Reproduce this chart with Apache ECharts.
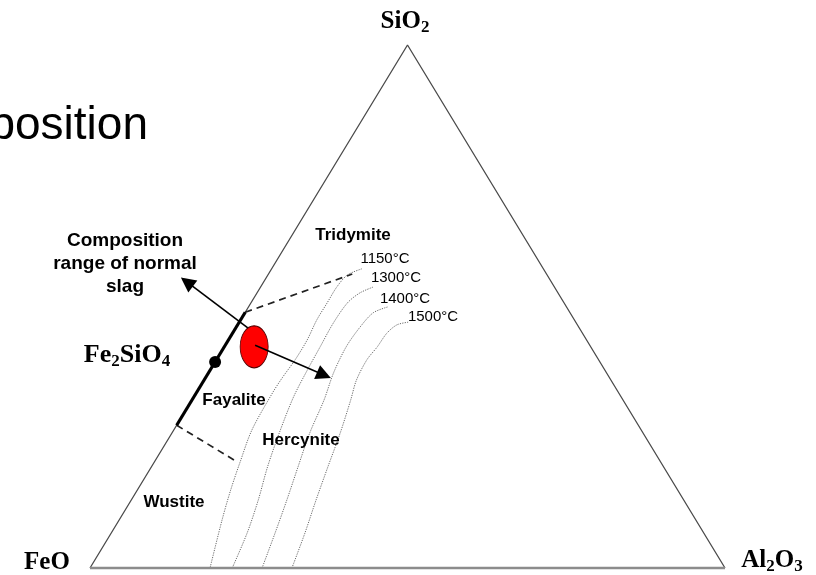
<!DOCTYPE html>
<html><head><meta charset="utf-8">
<script src="https://cdn.jsdelivr.net/npm/echarts@6/dist/echarts.min.js"></script>
<style>html,body{margin:0;padding:0;background:#fff}#c{width:816px;height:575px}</style>
</head><body><div id="c"></div>
<script>
// Ternary compositions, wt%: SiO2 and Al2O3 given, FeO = 100 - SiO2 - Al2O3
const vertexNames = ['FeO', 'SiO2', 'Al2O3'];
const vertex_SiO2 = [0, 100, 0];
const vertex_Al2O3 = [0, 0, 100];

const iso1150_SiO2  = [57.2, 56.0, 53.7, 50.7, 47.4, 43.6, 39.8, 36.5, 33.5, 26.4, 20.3, 14.9, 9.2, 0];
const iso1150_Al2O3 = [14.2, 12.5, 12.0, 12.0, 12.0, 12.4, 12.4, 12.1, 12.0, 12.3, 13.5, 14.7, 16.2, 18.9];
const iso1300_SiO2  = [53.7, 52.6, 50.7, 46.8, 42.3, 37.9, 32.7, 25.8, 19.3, 13.0, 6.7, 0];
const iso1300_Al2O3 = [17.7, 16.2, 15.2, 14.9, 15.1, 15.3, 15.7, 16.9, 18.3, 20.0, 21.4, 22.4];
const iso1400_SiO2  = [49.9, 48.8, 46.1, 42.3, 37.3, 32.1, 25.8, 19.3, 13.0, 6.7, 0];
const iso1400_Al2O3 = [21.9, 20.2, 19.5, 19.2, 19.7, 20.8, 21.7, 23.1, 24.5, 25.8, 27.1];
const iso1500_SiO2  = [47.0, 46.5, 44.9, 42.3, 39.8, 35.9, 32.1, 25.8, 19.3, 13.0, 6.7, 0];
const iso1500_Al2O3 = [26.6, 25.1, 24.3, 24.1, 23.7, 24.0, 25.0, 26.5, 27.8, 29.1, 30.5, 31.8];
const isoLabels = ['1150°C', '1300°C', '1400°C', '1500°C'];

const fayaliteRange_SiO2 = [27.3, 48.9];
const fayaliteRange_Al2O3 = [0, 0];
const fe2sio4_SiO2 = 39.4, fe2sio4_Al2O3 = 0;
const tieUpper_SiO2 = [48.9, 56.2], tieUpper_Al2O3 = [0, 13.2];
const tieLower_SiO2 = [27.3, 20.3], tieLower_Al2O3 = [0, 13.0];
const slag_SiO2 = 42.3, slag_Al2O3 = 4.7;
const arrowOut_SiO2 = [45.9, 54.7], arrowOut_Al2O3 = [1.9, -12.1];
const arrowIn_SiO2 = [42.6, 36.9], arrowIn_Al2O3 = [4.7, 18.4];

const regionLabels = ['Tridymite', 'Fayalite', 'Hercynite', 'Wustite'];

function tern(s, a) { return [a + s / 2, s]; }
function path(sArr, aArr) { return sArr.map((s, i) => tern(s, aArr[i])); }

const chart = echarts.init(document.getElementById('c'), null, {renderer: 'canvas'});
const isoColor = '#6a6a6a';
const isoSeries = [
  [iso1150_SiO2, iso1150_Al2O3], [iso1300_SiO2, iso1300_Al2O3],
  [iso1400_SiO2, iso1400_Al2O3], [iso1500_SiO2, iso1500_Al2O3]
].map((p, i) => ({
  type: 'line', name: isoLabels[i], data: path(p[0], p[1]), smooth: 0.3,
  symbol: 'none', clip: false, silent: true,
  lineStyle: {color: isoColor, width: 1, type: [1.2, 1.2]}
}));

const serif = '"Liberation Serif","Times New Roman",serif';
const sans = '"Liberation Sans",Arial,sans-serif';
function formula(x, y, main, sub, rest, sub2, size, subSize) {
  let t = '{m|' + main + '}{s|' + sub + '}';
  if (rest) t += '{m|' + rest + '}{s|' + sub2 + '}';
  return {type: 'text', x: x, y: y, z: 100, style: {
    text: t, align: 'center', verticalAlign: 'middle',
    rich: {
      m: {fontFamily: serif, fontWeight: 'bold', fontSize: size, lineHeight: size + 4, fill: '#000'},
      s: {fontFamily: serif, fontWeight: 'bold', fontSize: subSize, lineHeight: subSize, verticalAlign: 'bottom', fill: '#000'}
    }}};
}
function label(x, y, text, size, bold) {
  return {type: 'text', x: x, y: y, z: 100, style: {
    text: text, align: 'center', verticalAlign: 'middle', fill: '#000',
    font: (bold ? 'bold ' : '') + size + 'px ' + sans, lineHeight: 23}};
}

chart.setOption({
  animation: false,
  backgroundColor: '#fff',
  grid: {left: 90, right: 91, top: 45, bottom: 7},
  xAxis: {type: 'value', min: 0, max: 100, show: false},
  yAxis: {type: 'value', min: 0, max: 100, show: false},
  series: [
    ...isoSeries,
    {type: 'line', name: 'sides', symbol: 'none', clip: false, silent: true,
     data: [tern(vertex_SiO2[0], vertex_Al2O3[0]), tern(vertex_SiO2[1], vertex_Al2O3[1]), tern(vertex_SiO2[2], vertex_Al2O3[2])],
     lineStyle: {color: '#4a4a4a', width: 1.3}},
    {type: 'line', name: 'base', symbol: 'none', clip: false, silent: true,
     data: [tern(vertex_SiO2[0], vertex_Al2O3[0]), tern(vertex_SiO2[2], vertex_Al2O3[2])],
     lineStyle: {color: '#8c8c8c', width: 2.5}},
    {type: 'line', name: 'tieUpper', symbol: 'none', clip: false, silent: true,
     data: path(tieUpper_SiO2, tieUpper_Al2O3), lineStyle: {color: '#222', width: 1.7, type: [7, 5]}},
    {type: 'line', name: 'tieLower', symbol: 'none', clip: false, silent: true,
     data: path(tieLower_SiO2, tieLower_Al2O3), lineStyle: {color: '#222', width: 1.7, type: [7, 5]}},
    {type: 'line', name: 'fayaliteRange', symbol: 'none', clip: false, silent: true,
     data: path(fayaliteRange_SiO2, fayaliteRange_Al2O3), lineStyle: {color: '#000', width: 3.2}},
    {type: 'lines', coordinateSystem: 'cartesian2d', name: 'arrows', silent: true,
     symbol: ['none', 'triangle'], symbolSize: 15,
     lineStyle: {color: '#000', width: 1.6, opacity: 1, curveness: 0},
     data: [
       {coords: path(arrowOut_SiO2, arrowOut_Al2O3)},
       {coords: path(arrowIn_SiO2, arrowIn_Al2O3)}
     ], z: 5},
    {type: 'scatter', name: 'slag', clip: false, silent: true, symbol: 'circle', symbolSize: [28, 42],
     data: [tern(slag_SiO2, slag_Al2O3)], z: 4,
     itemStyle: {color: '#ff0000', borderColor: '#500', borderWidth: 1, opacity: 1}},
    {type: 'scatter', name: 'Fe2SiO4', clip: false, silent: true, symbol: 'circle', symbolSize: 12,
     data: [tern(fe2sio4_SiO2, fe2sio4_Al2O3)], itemStyle: {color: '#000', opacity: 1}, z: 6}
  ],
  graphic: [
    {type: 'text', x: 148, y: 126, z: 100, style: {text: 'position', align: 'right', verticalAlign: 'middle',
      font: '46px ' + sans, fill: '#000'}},
    formula(405, 22, 'SiO', '2', '', '', 25, 17),
    {type: 'text', x: 47, y: 563, z: 100, style: {text: 'FeO', align: 'center', verticalAlign: 'middle',
      font: 'bold 25px ' + serif, fill: '#000'}},
    formula(772, 561, 'Al', '2', 'O', '3', 25, 17),
    formula(127, 355, 'Fe', '2', 'SiO', '4', 26, 17),
    label(125, 264, 'Composition\nrange of normal\nslag', 19, true),
    label(353, 235, regionLabels[0], 17, true),
    label(234, 400, regionLabels[1], 17, true),
    label(301, 440, regionLabels[2], 17, true),
    label(174, 502, regionLabels[3], 17, true),
    label(385, 259, isoLabels[0], 15, false),
    label(396, 278, isoLabels[1], 15, false),
    label(405, 299, isoLabels[2], 15, false),
    label(433, 317, isoLabels[3], 15, false)
  ]
});
</script></body></html>
